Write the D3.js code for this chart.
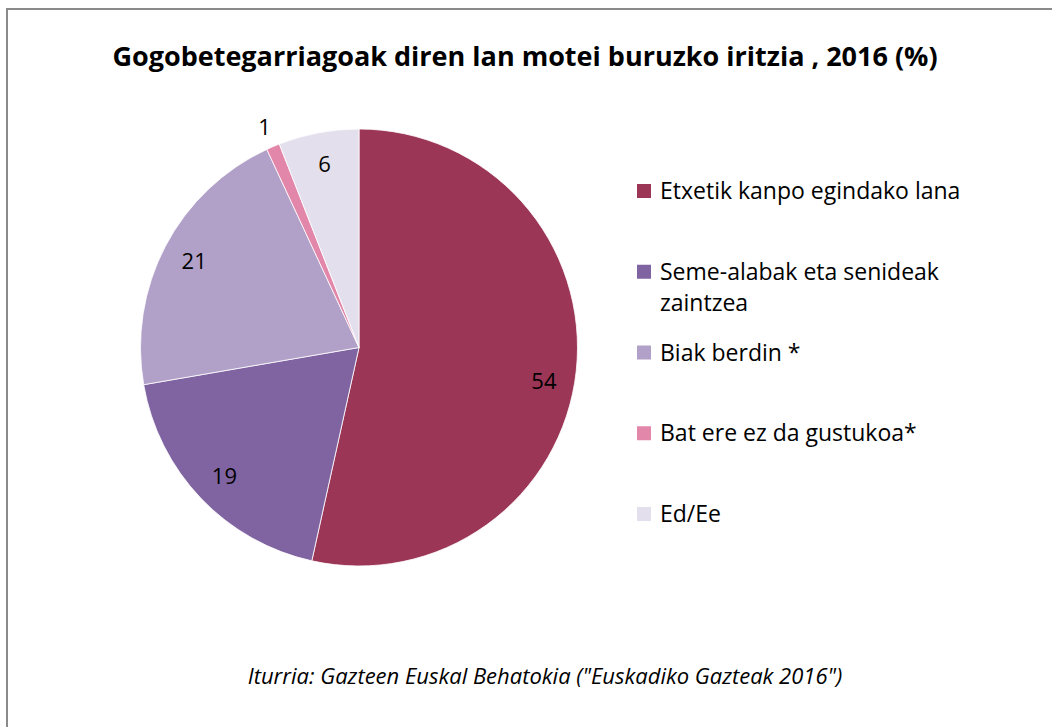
<!DOCTYPE html>
<html>
<head>
<meta charset="utf-8">
<script src="https://cdn.jsdelivr.net/npm/d3@7"></script>
<style>
	body { margin: 0; background: #fff; }
	text { font-family: "Open Sans", Lato, sans-serif; fill: #000; }
</style>
</head>
<body>
<svg id="chart" width="1052" height="727"></svg>
<script>
// pie of preferred kind of work, 2016

var categories = ['Etxetik kanpo egindako lana', 'Seme-alabak eta senideak zaintzea', 'Biak berdin *', 'Bat ere ez da gustukoa*', 'Ed/Ee'];
var legend_lines = [['Etxetik kanpo egindako lana'], ['Seme-alabak eta senideak', 'zaintzea'], ['Biak berdin *'], ['Bat ere ez da gustukoa*'], ['Ed/Ee']];
var values = [54, 19, 21, 1, 6];
var colors = ['#9b3656', '#8064a2', '#b1a0c7', '#e286aa', '#e4dfec'];
var title = 'Gogobetegarriagoak diren lan motei buruzko iritzia , 2016 (%)';
var source = 'Iturria: Gazteen Euskal Behatokia ("Euskadiko Gazteak 2016")';

var conf = {cx: 359, cy: 347.5, r: 218.5, label_r: 186, out_r: 240};

var svg = d3.select('#chart');

// frame
svg.append('rect')
	.attr('x', 7).attr('y', 9).attr('width', 1100).attr('height', 800)
	.attr('fill', 'none').attr('stroke', '#8a8a8a').attr('stroke-width', 2);

svg.append('text')
	.attr('x', 525).attr('y', 66)
	.attr('text-anchor', 'middle')
	.attr('font-weight', 'bold').attr('font-size', 27)
	.text(title);

var data = values.map(function (v, i) {return {name: categories[i], value: v, color: colors[i]};});

var pie = d3.pie().sort(null).value(function (d) {return d.value;});
var arc = d3.arc().innerRadius(0).outerRadius(conf.r);
var arcs = pie(data);

var g = svg.append('g').attr('transform', 'translate(' + conf.cx + ',' + conf.cy + ')');

g.selectAll('path.slice').data(arcs).enter().append('path')
	.attr('class', 'slice')
	.attr('d', arc)
	.attr('fill', function (d) {return d.data.color;})
	.attr('stroke', '#fff').attr('stroke-width', 0.8);

// labels: small slices go outside
g.selectAll('text.lbl').data(arcs).enter().append('text')
	.attr('class', 'lbl')
	.attr('text-anchor', 'middle')
	.attr('dy', '0.35em')
	.attr('font-size', 22)
	.attr('transform', function (d) {
		var rr = (d.endAngle - d.startAngle) < 0.1 ? conf.out_r : conf.label_r;
		var p = d3.arc().innerRadius(rr).outerRadius(rr).centroid(d);
		// excel nudges the big slice label down a bit
		if (d.index == 0) p[1] += 14;
		return 'translate(' + p[0] + ',' + p[1] + ')';
	})
	.text(function (d) {return d.data.value;});

// legend
var leg_y = d3.scalePoint().domain(categories).range([191, 514]);
var leg = svg.append('g').selectAll('g.item').data(data).enter().append('g')
	.attr('class', 'item')
	.attr('transform', function (d) {return 'translate(637,' + leg_y(d.name) + ')';});

leg.append('rect')
	.attr('x', 0).attr('y', -7).attr('width', 14).attr('height', 14)
	.attr('fill', function (d) {return d.color;});

leg.append('text')
	.attr('x', 23).attr('font-size', 23)
	.each(function (d, i) {
		var t = d3.select(this);
		legend_lines[i].forEach(function (line, j) {
			t.append('tspan').attr('x', 23).attr('y', j * 31).attr('dy', '0.35em').text(line);
		});
	});

svg.append('text')
	.attr('x', 545).attr('y', 684)
	.attr('text-anchor', 'middle')
	.attr('font-style', 'italic').attr('font-size', 22)
	.text(source);
</script>
</body>
</html>
